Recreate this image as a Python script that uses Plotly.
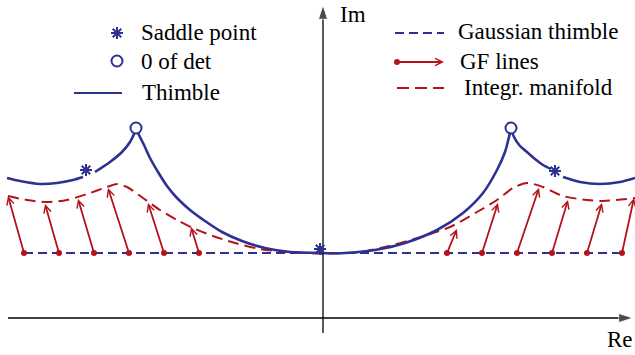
import plotly.graph_objects as go

BLUE = "#2e3192"
RED = "#b5121b"
FONT = "Liberation Serif, Times New Roman, serif"

# ---------------- data (Re / Im plane, arbitrary units) ----------------
gauss_im = 6.5                      # height of the Gaussian thimble
gauss_re = [-29.9, 29.9]

# thimble, split at the cusps (zeros of det) and at the saddle points
thimble_a_re = [-31.6, -30.3, -28.3, -26.6, -25.0, -24.0]
thimble_a_im = [14.0, 13.7, 13.4, 13.5, 13.8, 14.1]
thimble_b_re = [-22.8, -21.3, -20.1, -19.3, -18.9, -18.7]
thimble_b_im = [14.6, 15.6, 16.6, 17.6, 18.4, 19.0]
thimble_c_re = [-18.7, -18.4, -17.9, -17.3, -16.5, -15.6, -14.6, -13.3, -11.8, -10.1, -8.1, -5.8, -3.3, -0.3]
thimble_c_im = [19.0, 18.3, 17.3, 16.0, 14.6, 13.2, 12.0, 10.8, 9.7, 8.6, 7.7, 7.0, 6.6, 6.5]
thimble_d_re = [-0.3, 2.2, 5.2, 8.2, 11.4, 14.0, 16.0, 17.4, 18.2, 18.6, 18.8]
thimble_d_im = [6.5, 6.5, 6.8, 7.5, 8.8, 10.5, 12.5, 14.8, 16.6, 18.1, 19.0]
thimble_e_re = [18.8, 19.1, 19.7, 20.4, 21.2, 22.0, 22.8]
thimble_e_im = [19.0, 18.1, 17.2, 16.6, 15.9, 15.3, 14.9]
thimble_f_re = [24.0, 25.7, 27.7, 29.7, 31.2]
thimble_f_im = [14.1, 13.6, 13.4, 13.6, 14.0]

saddle_re = [-23.7, -0.3, 23.2]
saddle_im = [14.8, 6.9, 14.7]
zero_det_re = [-18.7, 18.8]
zero_det_im = [19.0, 19.0]

# integration manifold
manifold_re = [-31.5, -29.6, -27.6, -25.6, -23.6, -21.6, -20.6, -19.6, -18.0, -16.3, -14.6,
               -13.0, -11.0, -8.8, -6.3, -3.6, 0.0, 3.7, 7.0, 10.4, 12.7, 15.4, 17.4, 19.0,
               20.4, 22.0, 24.0, 26.4, 28.0, 31.2]
manifold_im = [12.2, 11.8, 11.6, 11.8, 12.4, 13.1, 13.4, 13.1, 12.0, 10.8, 9.8,
               9.0, 8.2, 7.5, 6.9, 6.6, 6.45, 6.6, 7.3, 8.3, 9.1, 10.6, 11.8, 13.0,
               13.5, 13.1, 12.2, 11.8, 11.7, 12.0]

# gradient-flow lines: start on the Gaussian thimble, end on the manifold
gf_start_re = [-29.9, -26.4, -22.9, -19.4, -15.9, -12.4, 12.4, 15.9, 19.4, 22.9, 26.4, 29.9]
gf_end_re = [-31.5, -27.8, -24.5, -21.5, -17.5, -13.2, 13.4, 17.5, 21.6, 24.5, 27.9, 31.1]
gf_end_im = [12.2, 11.4, 11.9, 13.0, 11.5, 9.1, 8.9, 11.5, 13.0, 11.8, 11.5, 12.0]

# coordinate axes
re_axis_re = [-31.5, 31.0]
im_axis_im = [-1.5, 31.3]


def joined(*segs):
    out = []
    for s in segs:
        if out:
            out.append(None)
        out.extend(s)
    return out


fig = go.Figure()

# Gaussian thimble
fig.add_trace(go.Scatter(x=gauss_re, y=[gauss_im] * len(gauss_re), mode="lines",
                         line=dict(color=BLUE, width=2, dash="9px,5px")))
# integration manifold
fig.add_trace(go.Scatter(x=manifold_re, y=manifold_im, mode="lines",
                         line=dict(color=RED, width=2, dash="11px,6px", shape="spline", smoothing=0.8)))
# thimble
fig.add_trace(go.Scatter(
    x=joined(thimble_a_re, thimble_b_re, thimble_c_re, thimble_d_re, thimble_e_re, thimble_f_re),
    y=joined(thimble_a_im, thimble_b_im, thimble_c_im, thimble_d_im, thimble_e_im, thimble_f_im),
    mode="lines", connectgaps=False,
    line=dict(color=BLUE, width=2.6, shape="spline", smoothing=0.8)))

# axes with arrow tips
fig.add_trace(go.Scatter(x=re_axis_re, y=[0, 0], mode="lines+markers",
                         line=dict(color="black", width=1.3),
                         marker=dict(symbol="arrow", size=[0, 15], color="black", angleref="previous")))
fig.add_trace(go.Scatter(x=[0, 0], y=im_axis_im, mode="lines+markers",
                         line=dict(color="black", width=1.3),
                         marker=dict(symbol="arrow", size=[0, 15], color="black", angleref="previous")))

# GF line start points
fig.add_trace(go.Scatter(x=gf_start_re, y=[gauss_im] * len(gf_start_re), mode="markers",
                         marker=dict(color=RED, size=6)))
# zeros of det
fig.add_trace(go.Scatter(x=zero_det_re, y=zero_det_im, mode="markers",
                         marker=dict(symbol="circle", size=11, color="white",
                                     line=dict(color=BLUE, width=2))))
# saddle points
fig.add_trace(go.Scatter(x=saddle_re, y=saddle_im, mode="markers",
                         marker=dict(symbol="asterisk-open", size=10, color=BLUE,
                                     line=dict(color=BLUE, width=2))))

# GF arrows
for x0, x1, y1 in zip(gf_start_re, gf_end_re, gf_end_im):
    fig.add_annotation(x=x1, y=y1, ax=x0, ay=gauss_im, xref="x", yref="y", axref="x", ayref="y",
                       text="", showarrow=True, arrowhead=5, arrowsize=0.8, arrowwidth=1.8,
                       arrowcolor=RED, standoff=0)

# ---------------- key (drawn on an overlay in pixel-like units) ----------------
key = dict(xaxis="x2", yaxis="y2", showlegend=False, hoverinfo="skip")
fig.add_trace(go.Scatter(x=[117], y=[33], mode="markers",
                         marker=dict(symbol="asterisk-open", size=10, color=BLUE,
                                     line=dict(color=BLUE, width=2)), **key))
fig.add_trace(go.Scatter(x=[117], y=[61], mode="markers",
                         marker=dict(symbol="circle", size=11, color="white", line=dict(color=BLUE, width=2)), **key))
fig.add_trace(go.Scatter(x=[74, 122], y=[93, 93], mode="lines", line=dict(color=BLUE, width=2.2), **key))
fig.add_trace(go.Scatter(x=[395, 444], y=[33, 33], mode="lines",
                         line=dict(color=BLUE, width=2, dash="9px,5px"), **key))
fig.add_trace(go.Scatter(x=[397], y=[62], mode="markers", marker=dict(color=RED, size=6), **key))
fig.add_trace(go.Scatter(x=[397, 444], y=[88, 88], mode="lines",
                         line=dict(color=RED, width=2, dash="12px,6px"), **key))
fig.add_annotation(x=444, y=62, ax=397, ay=62, xref="x2", yref="y2", axref="x2", ayref="y2",
                   text="", showarrow=True, arrowhead=5, arrowsize=0.8, arrowwidth=1.8,
                   arrowcolor=RED, standoff=0)

labels = [
    ("Saddle point", 139, 32),
    ("0 of det", 139, 61),
    ("Thimble", 140, 92),
    ("Gaussian thimble", 456, 31),
    ("GF lines", 458, 61),
    ("Integr. manifold", 462, 87),
    ("Im", 338, 14),
    ("Re", 605, 339),
]
for txt, lx, ly in labels:
    fig.add_annotation(x=lx, y=ly, xref="x2", yref="y2", text=txt, showarrow=False,
                       xanchor="left", yanchor="middle",
                       font=dict(family=FONT, size=23, color="black"))

fig.update_layout(
    width=635, height=355,
    margin=dict(l=0, r=0, t=0, b=0),
    paper_bgcolor="white", plot_bgcolor="white",
    showlegend=False,
    font=dict(family=FONT),
    xaxis=dict(range=[-32.3, 31.2], visible=False, fixedrange=True),
    yaxis=dict(range=[-3.7, 31.8], visible=False, fixedrange=True),
    xaxis2=dict(range=[0, 635], overlaying="x", visible=False, fixedrange=True),
    yaxis2=dict(range=[355, 0], overlaying="y", visible=False, fixedrange=True),
)

fig.write_html("out.html")
